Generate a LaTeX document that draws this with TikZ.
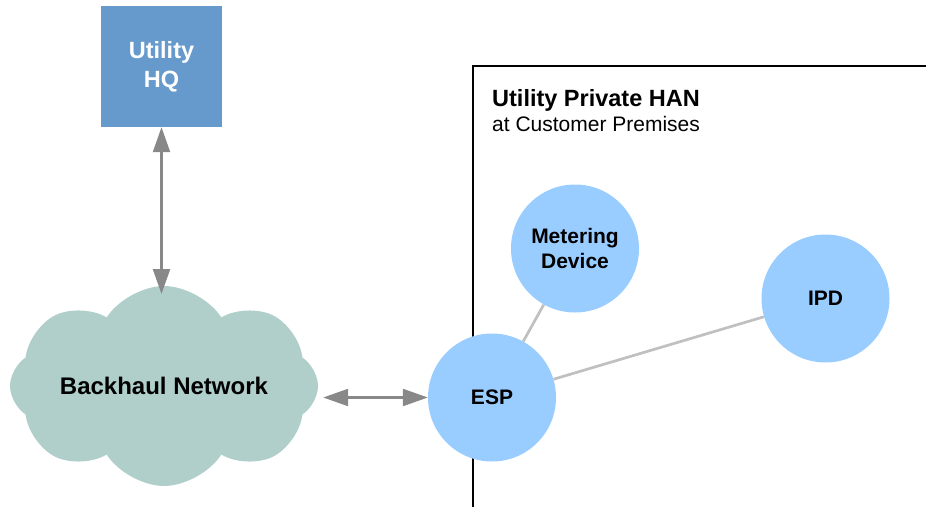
\documentclass[tikz,border=0pt]{standalone}
\usepackage{fontspec}
\setmainfont{Liberation Sans}
\usetikzlibrary{arrows.meta,shapes.symbols,backgrounds}

\definecolor{hqblue}{HTML}{6699CC}
\definecolor{cloudgreen}{HTML}{B0CFCB}
\definecolor{devblue}{HTML}{99CCFF}
\definecolor{arrowgray}{HTML}{888888}
\definecolor{linkgray}{HTML}{C0C0C0}

\tikzset{
  device/.style={circle, fill=devblue, draw=none, minimum size=128pt, inner sep=0pt,
    align=center, font=\fontsize{21}{25}\selectfont\bfseries},
  biarrow/.style={arrowgray, line width=2.3pt,
    {Triangle[length=25pt,width=17pt]}-{Triangle[length=25pt,width=17pt]}},
  link/.style={linkgray, line width=2.7pt},
  frame/.style={black, line width=2pt},
}

\begin{document}
\begin{tikzpicture}[x=1pt, y=-1pt]
  \useasboundingbox (0,0) rectangle (926,506);

  % head office
  \node[rectangle, fill=hqblue, minimum width=121pt, minimum height=121pt, inner sep=0pt,
    align=center, text=white, font=\fontsize{23.5}{29}\selectfont\bfseries]
    (hq) at (161.5,66.5) {Utility\\HQ};

  % backhaul cloud
  \node[cloud, cloud puffs=8, cloud puff arc=115, cloud ignores aspect,
    fill=cloudgreen, minimum width=308pt, minimum height=200pt, inner sep=0pt,
    font=\fontsize{24}{28}\selectfont\bfseries]
    (bn) at (164,386) {Backhaul Network};

  % premises title
  \node[anchor=base west, inner sep=0pt, font=\fontsize{23.5}{28}\selectfont\bfseries]
    (hantitle) at (492,106.7) {Utility Private HAN};
  \node[anchor=base west, inner sep=0pt, font=\fontsize{21}{25}\selectfont]
    (hansub) at (492,131.7) {at Customer Premises};

  % devices inside the HAN
  \node[device] (esp) at (492,397.5) {ESP};
  \node[device] (meter) at (575,248.5) {Metering\\Device};
  \node[device] (ipd) at (825.5,298.5) {IPD};

  \begin{scope}[on background layer]
    % premises boundary (open on the right and at the bottom)
    \draw[frame] (926,66) -- (473,66) -- (473,510);
    % links
    \draw[link] (esp) -- (meter);
    \draw[link] (esp) -- (ipd);
  \end{scope}

  % backhaul connections
  \coordinate (cloudtop) at (161.5,294);
  \draw[biarrow] (hq.south) -- (cloudtop);
  \draw[biarrow, shorten <=5pt] (bn.east |- esp.west) -- (esp.west);
\end{tikzpicture}
\end{document}
